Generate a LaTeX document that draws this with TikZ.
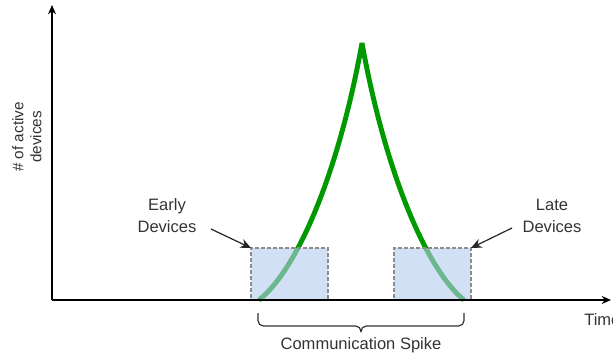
\documentclass[tikz,border=0pt]{standalone}
\usepackage{fontspec}
\setmainfont{Liberation Sans}
\usetikzlibrary{arrows.meta}
\definecolor{spikegreen}{HTML}{009900}
\definecolor{boxblue}{HTML}{B4CBEE}
\definecolor{boxedge}{HTML}{8C8C8C}
\definecolor{labelgray}{HTML}{333333}
\begin{document}
\begin{tikzpicture}[x=0.75pt,y=-0.75pt,
    lbl/.style={align=center,text=labelgray,font=\fontsize{12.4}{16.5}\selectfont},
    devbox/.style={draw=boxedge,dashed,dash pattern=on 3pt off 1.5pt,line width=0.8pt,
        fill=boxblue,fill opacity=0.6,inner sep=0pt,outer sep=0pt,anchor=south west,
        minimum width=57.75pt,minimum height=39pt},
    pointer/.style={-{Stealth[length=8pt,width=7pt]},line width=0.9pt,black!85}]
\useasboundingbox (0,0) rectangle (613,356);

% Axes
\coordinate (origin) at (52,300);
\coordinate (ytop) at (52,5);
\coordinate (xend) at (611,300);

% Spike
\draw[spikegreen,line width=3.7pt,line join=bevel]
    (259,300) .. controls (298,269) and (339,171) .. (362,43)
    .. controls (385,171) and (426,269) .. (464,300);

% Early / late boxes
\node[devbox] (earlybox) at (251,300) {};
\node[devbox] (latebox) at (394,300) {};

\draw[-{Stealth[length=7pt,width=6pt]},line width=0.9pt] (origin) -- (ytop);
\draw[-{Stealth[length=7pt,width=6pt]},line width=0.9pt] (origin) -- (xend);

% Labels
\node[lbl,rotate=90,font=\fontsize{11.5}{13.5}\selectfont] (ylbl) at (27,137) {\# of active\\devices};
\node[lbl,anchor=west,inner sep=0pt] (xlbl) at (584,320) {Time};
\node[lbl] (earlylbl) at (167,216) {Early\\Devices};
\node[lbl] (latelbl) at (552,216) {Late\\Devices};

\coordinate (earlytail) at (211,229);
\coordinate (latetail) at (512,228);
\draw[pointer] (earlytail) -- (earlybox.north west);
\draw[pointer] (latetail) -- (latebox.north east);

% Brace
\coordinate (bl) at (258,313);
\coordinate (br) at (464,313);
\coordinate (btip) at (361,332);
\draw[labelgray,line width=0.9pt,rounded corners=4pt] (bl) -- (258,326) -- (361,326) -- (btip);
\draw[labelgray,line width=0.9pt,rounded corners=4pt] (br) -- (464,326) -- (361,326) -- (btip);
\node[lbl] (spikelbl) at (361,345) {Communication Spike};

\end{tikzpicture}
\end{document}
